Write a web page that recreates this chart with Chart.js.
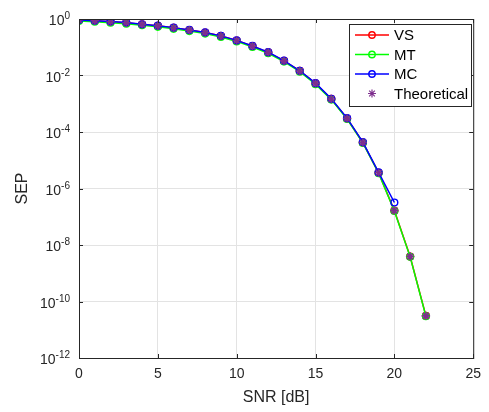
<!DOCTYPE html>
<html lang="en">
<head>
  <meta charset="UTF-8" />
  <title>SEP vs SNR</title>
  <script src="https://cdn.jsdelivr.net/npm/chart.js"></script>
  <style>
    html, body { margin: 0; padding: 0; background: #fff; }
    #wrap { width: 489px; height: 412px; position: relative; }
  </style>
</head>
<body>
  <div id="wrap"><canvas id="sepChart" width="489" height="412"></canvas></div>

  <script>
    const snr = [0, 1, 2, 3, 4, 5, 6, 7, 8, 9, 10, 11, 12, 13, 14, 15, 16, 17, 18, 19, 20, 21, 22];
    const snrMC = [0, 1, 2, 3, 4, 5, 6, 7, 8, 9, 10, 11, 12, 13, 14, 15, 16, 17, 18, 19, 20];

    const sepVS = [0.92, 0.87, 0.80, 0.74, 0.645, 0.575, 0.49, 0.405, 0.33, 0.25, 0.173, 0.11, 0.066, 0.033, 0.0145,
      5.25e-3, 1.48e-3, 3.0e-4, 4.25e-5, 3.6e-6, 1.65e-7, 3.9e-9, 3.1e-11];
    const sepMT = [0.85, 0.80, 0.74, 0.68, 0.60, 0.53, 0.45, 0.375, 0.305, 0.232, 0.161, 0.102, 0.0615, 0.031, 0.0136,
      4.95e-3, 1.40e-3, 2.88e-4, 4.1e-5, 3.5e-6, 1.6e-7, 3.8e-9, 3.0e-11];
    const sepMC = [0.93, 0.875, 0.81, 0.745, 0.65, 0.58, 0.495, 0.41, 0.335, 0.253, 0.175, 0.111, 0.067, 0.0335, 0.0147,
      5.35e-3, 1.5e-3, 3.1e-4, 4.4e-5, 3.7e-6, 3.2e-7];
    const sepTheory = [0.92, 0.87, 0.80, 0.74, 0.645, 0.575, 0.49, 0.405, 0.33, 0.25, 0.173, 0.11, 0.066, 0.033, 0.0145,
      5.25e-3, 1.48e-3, 3.0e-4, 4.25e-5, 3.6e-6, 1.65e-7, 3.9e-9, 3.1e-11];

    const xTicks = [0, 5, 10, 15, 20, 25];
    const yExponents = [-12, -10, -8, -6, -4, -2, 0];

    const FONT = "'Liberation Sans', Arial, Helvetica, sans-serif";
    const AXIS = "#262626";
    const PURPLE = "#7E2F8E";

    const toXY = (xs, ys) => ys.map((y, i) => ({ x: xs[i], y }));

    const legendItems = [
      { label: "VS", color: "#ff0000", line: true },
      { label: "MT", color: "#00ff00", line: true },
      { label: "MC", color: "#0000ff", line: true },
      { label: "Theoretical", color: PURPLE, line: false }
    ];

    const matlabAxes = {
      id: "matlabAxes",
      afterDraw(chart) {
        const { ctx, chartArea: a, scales } = chart;
        const xs = scales.x, ys = scales.y;
        ctx.save();

        // box
        ctx.strokeStyle = AXIS;
        ctx.lineWidth = 1;
        ctx.strokeRect(a.left + 0.5, a.top + 0.5, a.right - a.left, a.bottom - a.top);

        // inward tick marks
        ctx.beginPath();
        xTicks.forEach(v => {
          const px = Math.round(xs.getPixelForValue(v)) + 0.5;
          ctx.moveTo(px, a.bottom); ctx.lineTo(px, a.bottom - 4);
          ctx.moveTo(px, a.top); ctx.lineTo(px, a.top + 4);
        });
        yExponents.forEach(e => {
          const py = Math.round(ys.getPixelForValue(Math.pow(10, e))) + 0.5;
          ctx.moveTo(a.left, py); ctx.lineTo(a.left + 4, py);
          ctx.moveTo(a.right, py); ctx.lineTo(a.right - 4, py);
        });
        ctx.stroke();

        // y tick labels 10^e
        ctx.fillStyle = AXIS;
        ctx.textBaseline = "alphabetic";
        yExponents.forEach(e => {
          const py = ys.getPixelForValue(Math.pow(10, e));
          const sup = String(e);
          ctx.font = `10px ${FONT}`;
          const supW = ctx.measureText(sup).width;
          const right = a.left - 10;
          ctx.textAlign = "left";
          ctx.fillText(sup, right - supW + 1, py);
          ctx.font = `14px ${FONT}`;
          ctx.textAlign = "right";
          ctx.fillText("10", right - supW + 1, py + 6);
        });

        // legend
        const bx = 349, by = 24, bw = 122, bh = 82;
        ctx.fillStyle = "#fff";
        ctx.fillRect(bx, by, bw, bh);
        ctx.strokeStyle = AXIS;
        ctx.lineWidth = 1;
        ctx.strokeRect(bx + 0.5, by + 0.5, bw, bh);
        legendItems.forEach((it, i) => {
          const cy = 35 + i * 19.5;
          if (it.line) {
            ctx.strokeStyle = it.color;
            ctx.lineWidth = 1.4;
            ctx.beginPath();
            ctx.moveTo(355, cy); ctx.lineTo(389, cy);
            ctx.stroke();
            ctx.beginPath();
            ctx.arc(372, cy, 3.2, 0, Math.PI * 2);
            ctx.stroke();
          } else {
            ctx.strokeStyle = it.color;
            ctx.lineWidth = 1.2;
            Chart.helpers.drawPoint(ctx, { pointStyle: "star", radius: 4, rotation: 0, borderWidth: 1.2 }, 372, cy);
          }
          ctx.fillStyle = "#000";
          ctx.font = `15px ${FONT}`;
          ctx.textAlign = "left";
          ctx.textBaseline = "middle";
          ctx.fillText(it.label, 394, cy + 1);
        });
        ctx.restore();
      }
    };

    const lineSet = (label, xs, ys, color, order) => ({
      label,
      data: toXY(xs, ys),
      borderColor: color,
      backgroundColor: "transparent",
      borderWidth: 1.5,
      pointStyle: "circle",
      pointRadius: 3.4,
      pointBorderWidth: 1.4,
      pointBorderColor: color,
      pointBackgroundColor: "transparent",
      tension: 0,
      order
    });

    new Chart(document.getElementById("sepChart"), {
      type: "line",
      data: {
        datasets: [
          lineSet("VS", snr, sepVS, "#ff0000", 4),
          lineSet("MT", snr, sepMT, "#00ff00", 3),
          lineSet("MC", snrMC, sepMC, "#0000ff", 2),
          {
            label: "Theoretical",
            data: toXY(snr, sepTheory),
            showLine: false,
            pointStyle: "star",
            pointRadius: 4.2,
            pointBorderWidth: 1.6,
            pointBorderColor: PURPLE,
            pointBackgroundColor: PURPLE,
            borderColor: PURPLE,
            order: 1
          }
        ]
      },
      options: {
        responsive: false,
        animation: false,
        layout: { padding: { left: 0, right: 11, top: 19, bottom: 0 } },
        plugins: {
          legend: { display: false },
          tooltip: { enabled: false }
        },
        scales: {
          x: {
            type: "linear",
            min: 0,
            max: 25,
            afterBuildTicks: s => { s.ticks = xTicks.map(v => ({ value: v })); },
            afterFit: s => { s.height = 54; },
            grid: { color: "#e3e3e3", drawTicks: false },
            border: { display: false },
            ticks: { color: AXIS, font: { family: FONT, size: 14 }, padding: 8, maxRotation: 0 },
            title: { display: true, text: "SNR [dB]", color: AXIS, font: { family: FONT, size: 16 }, padding: { top: 0, bottom: 5 } }
          },
          y: {
            type: "logarithmic",
            min: 1e-12,
            max: 1,
            afterBuildTicks: s => { s.ticks = yExponents.map(e => ({ value: Math.pow(10, e) })); },
            afterFit: s => { s.width = 79; },
            grid: { color: "#e3e3e3", drawTicks: false },
            border: { display: false },
            ticks: { display: false },
            title: { display: true, text: "SEP", color: AXIS, font: { family: FONT, size: 16 }, padding: { top: 13, bottom: 0 } }
          }
        }
      },
      plugins: [matlabAxes]
    });
  </script>
</body>
</html>
